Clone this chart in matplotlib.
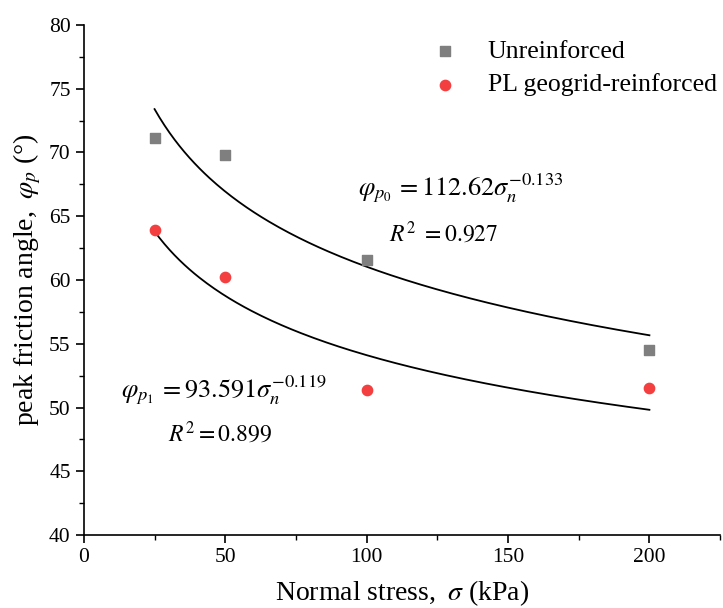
import numpy as np
import matplotlib
matplotlib.use("Agg")
import matplotlib.pyplot as plt
from matplotlib.ticker import MultipleLocator

stress = [25, 50, 100, 200]
unreinforced = [71.1, 69.8, 61.6, 54.5]
reinforced = [63.9, 60.2, 51.4, 51.5]
fit_u = (112.62, -0.133)
fit_r = (93.591, -0.119)

plt.rcParams['font.family'] = ['Liberation Serif', 'Noto Sans CJK SC']
plt.rcParams['mathtext.fontset'] = 'stix'

fig = plt.figure(figsize=(7.23, 6.08), dpi=100)
ax = fig.add_axes([0.116, 0.120, 0.880, 0.839])

ax.scatter(stress, unreinforced, marker='s', s=45, color='#7f7f7f', label='Unreinforced', zorder=3)
ax.scatter(stress, reinforced, marker='o', s=55, color='#f33f3f', label='PL geogrid-reinforced', zorder=3)

xs = np.linspace(25, 200, 200)
ax.plot(xs, fit_u[0] * xs ** fit_u[1], color='black', lw=1.3)
ax.plot(xs, fit_r[0] * xs ** fit_r[1], color='black', lw=1.3)

ax.set_xlim(0, 225)
ax.set_ylim(40, 80)
ax.xaxis.set_major_locator(MultipleLocator(50))
ax.xaxis.set_minor_locator(MultipleLocator(25))
ax.yaxis.set_major_locator(MultipleLocator(5))
ax.yaxis.set_minor_locator(MultipleLocator(2.5))
for s in ['top', 'right']:
    ax.spines[s].set_visible(False)
for s in ['left', 'bottom']:
    ax.spines[s].set_linewidth(1.2)
ax.tick_params(which='major', direction='out', length=6, width=1.2, labelsize=15.5)
ax.tick_params(which='minor', direction='out', length=3.5, width=1.0)

ax.set_xlabel('Normal stress,$\\ \\;\\sigma$ (kPa)', fontsize=20, labelpad=8)
ax.set_ylabel('peak friction angle,$\\ \\;\\varphi_p$ (°)', fontsize=20, labelpad=4)

ax.text(97, 66.6, r'$\varphi_{p_0}\,=112.62\sigma_n^{-0.133}$', fontsize=19)
ax.text(108, 63.0, r'$R^2\ =0.927$', fontsize=17)
ax.text(13.0, 50.8, r'$\varphi_{p_1}\,=93.591\sigma_n^{-0.119}$', fontsize=19)
ax.text(29.8, 47.3, r'$R^2=0.899$', fontsize=17)

leg = ax.legend(loc='upper left', bbox_to_anchor=(0.548, 0.97), frameon=False, fontsize=18.5,
                handlelength=1.0, handletextpad=1.15, labelspacing=0.4, borderpad=0,
                borderaxespad=0)

fig.savefig('out.png', dpi=100)
